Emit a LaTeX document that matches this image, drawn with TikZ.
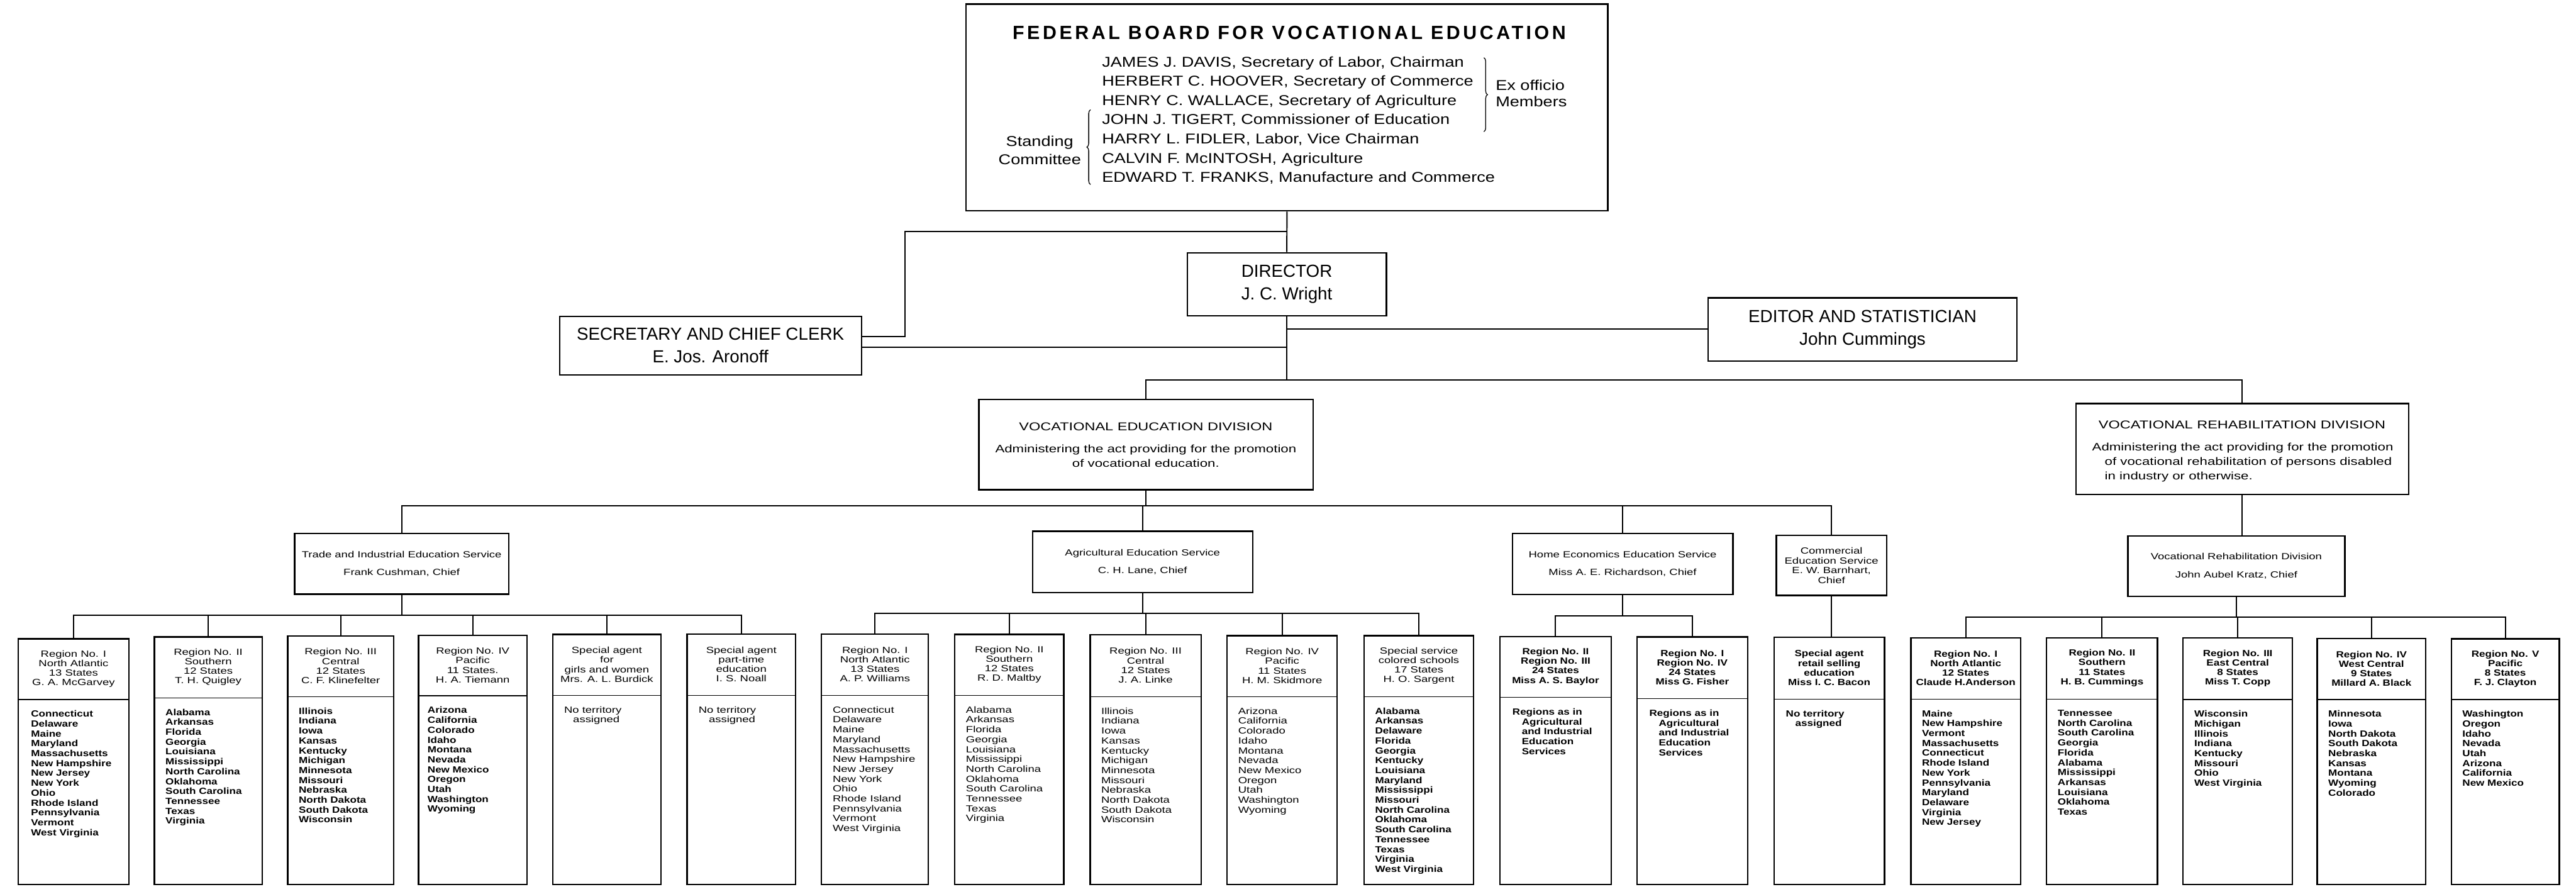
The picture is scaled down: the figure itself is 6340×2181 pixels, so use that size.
\documentclass[tikz,border=0pt]{standalone}
\usepackage{fontspec}
\setmainfont{Liberation Sans}
\newfontfamily\xf[FakeStretch=1.3]{Liberation Sans}
\newfontfamily\wf[FakeStretch=1.2]{Liberation Sans}
\usetikzlibrary{decorations.pathreplacing,calc}
\tikzset{
  box/.style={draw, line width=3.5pt, inner sep=0pt, align=center},
  rbx/.style={draw, line width=3.5pt, inner sep=0pt},
  conn/.style={line width=3pt},
  divl/.style={line width=2.2pt},
  topt/.style={font=\fontsize{43}{55}\selectfont},
  svc/.style={font=\xf\fontsize{22}{44}\selectfont},
  svcc/.style={font=\xf\fontsize{22}{24}\selectfont},
  dtitle/.style={inner sep=0pt, font=\xf\fontsize{28}{34}\selectfont},
  dbody/.style={inner sep=0pt, font=\xf\fontsize{26.5}{36}\selectfont},
  hr/.style={inner sep=0pt, align=center, font=\xf\fontsize{22}{23.5}\selectfont},
  hb/.style={inner sep=0pt, align=center, font=\wf\bfseries\fontsize{22}{23.5}\selectfont},
  lr/.style={inner sep=0pt, align=left, font=\xf\fontsize{22}{24.3}\selectfont},
  lb/.style={inner sep=0pt, align=left, font=\wf\bfseries\fontsize{22}{24.3}\selectfont},
  brc/.style={line width=2pt, decorate, decoration={brace, amplitude=9pt}},
}
\newcommand\bx[7][]{\node[box, minimum width={(#5-#3)*1pt}, minimum height={(#6-#4)*1pt}, #1] (#2) at ({(#3+#5)/2},{(#4+#6)/2}) {#7};}
\newcommand\rbox[5]{%
  \node[rbx, minimum width={(#3-#2)*1pt}, minimum height={(2176-#4)*1pt}] (#1) at ({(#2+#3)/2},{(#4+2176)/2}) {};
  \coordinate (#1d) at ({(#2+#3)/2},#5);
  \draw[divl] (#1.west |- #1d) -- (#1.east |- #1d);}
\newcommand\rhead[3]{\node[#2] (#1h) at ($(#1.north)!0.5!(#1d)$) {#3};}
\newcommand\rlist[4][29]{\node[#3, anchor=north west] (#2l) at ($(#2.west |- #2d)+(#1,27)$) {#4};}
\begin{document}
\begin{tikzpicture}[x=1pt,y=-1pt]
\fill[white] (0,0) rectangle (6340,2181);
\useasboundingbox (0,0) rectangle (6340,2181);

% ---------- Board ----------
\bx{board}{2378}{10}{3957}{519}{}
\node[inner sep=0pt, font=\bfseries\fontsize{47}{50}\selectfont\addfontfeature{LetterSpace=15}] (title) at (3173,81) {FEDERAL BOARD FOR VOCATIONAL EDUCATION};
\node[inner sep=0pt, align=left, anchor=north west, font=\wf\fontsize{35}{47.3}\selectfont] (names) at (2712,139)
 {JAMES J. DAVIS, Secretary of Labor, Chairman\\
  HERBERT C. HOOVER, Secretary of Commerce\\
  HENRY C. WALLACE, Secretary of Agriculture\\
  JOHN J. TIGERT, Commissioner of Education\\
  HARRY L. FIDLER, Labor, Vice Chairman\\
  CALVIN F. McINTOSH, Agriculture\\
  EDWARD T. FRANKS, Manufacture and Commerce};
\node[inner sep=0pt, align=left, anchor=north west, font=\wf\fontsize{35}{41}\selectfont] (exo) at (3681,196) {Ex officio\\Members};
\node[inner sep=0pt, align=center, font=\wf\fontsize{35}{44}\selectfont] (stand) at (2559,370) {Standing\\Committee};
\draw[brc] (3652,142) -- (3652,324);
\draw[brc] (2684,454) -- (2684,270);

% ---------- Second level ----------
\bx[topt]{dir}{2922}{622}{3412}{777}{DIRECTOR\\J. C. Wright}
\bx[topt]{sec}{1377}{778}{2120}{922}{SECRETARY AND CHIEF CLERK\\E. Jos. Aronoff}
\bx[topt]{ed}{4204}{733}{4964}{888}{EDITOR AND STATISTICIAN\\John Cummings}

\coordinate (j1) at (3167,570);
\coordinate (j2) at (2227,828);
\coordinate (j3) at (3167,855);
\coordinate (j4) at (3167,810);
\coordinate (tb) at (3167,935);
\draw[conn] (board.south) -- (dir.north);
\draw[conn] (j1) -| (j2) -- (sec.east |- j2);
\draw[conn] (j3) -- (sec.east |- j3);
\draw[conn] (j4) -- (ed.west |- j4);
\draw[conn] (dir.south) -- (tb);

% ---------- Divisions ----------
\bx{ved}{2409}{983}{3232}{1205}{}
\node[dtitle] (vedt) at (2820,1050) {VOCATIONAL EDUCATION DIVISION};
\node[dbody, align=center, anchor=north] (vedb) at (2820,1094) {Administering the act providing for the promotion\\of vocational education.};
\bx{vrd}{5109}{993}{5928}{1217}{}
\node[dtitle] (vrdt) at (5518,1045) {VOCATIONAL REHABILITATION DIVISION};
\node[dbody, align=left, anchor=north west] (vrdb) at (5180,1089) {\hspace*{-31pt}Administering the act providing for the promotion\\of vocational rehabilitation of persons disabled\\in industry or otherwise.};
\draw[conn] (ved.north) |- (tb) -| (vrd.north);

% ---------- Services ----------
\bx[svc]{trade}{725}{1312}{1252}{1462}{Trade and Industrial Education Service\\Frank Cushman, Chief}
\bx[svc]{agri}{2541}{1307}{3083}{1458}{Agricultural Education Service\\C. H. Lane, Chief}
\bx[svc]{home}{3722}{1312}{4265}{1463}{Home Economics Education Service\\Miss A. E. Richardson, Chief}
\bx[svcc]{comm}{4372}{1317}{4643}{1465}{Commercial\\Education Service\\E. W. Barnhart,\\Chief}
\bx[svc]{vrs}{5237}{1319}{5771}{1467}{Vocational Rehabilitation Division\\John Aubel Kratz, Chief}

\coordinate (sb) at (2820,1245);
\draw[conn] (ved.south) -- (ved.south |- sb);
\draw[conn] (trade.north) |- (comm.north |- sb) -- (comm.north);
\draw[conn] (agri.north) -- (agri.north |- sb);
\draw[conn] (home.north) -- (home.north |- sb);
\draw[conn] (vrd.south) -- (vrd.south |- vrs.north);

% ---------- Region boxes ----------
\rbox{r1}{45}{317}{1572}{1721}
\rbox{r2}{380}{645}{1567}{1717}
\rbox{r3}{708}{969}{1565}{1714}
\rbox{r4}{1030}{1297}{1563}{1712}
\rbox{s1}{1360}{1627}{1561}{1711}
\rbox{s2}{1691}{1958}{1560}{1711}
\rbox{a1}{2022}{2285}{1560}{1711}
\rbox{a2}{2350}{2618}{1561}{1711}
\rbox{a3}{2683}{2956}{1562}{1714}
\rbox{a4}{3020}{3291}{1564}{1714}
\rbox{a5}{3357}{3627}{1564}{1714}
\rbox{h1}{3692}{3965}{1566}{1716}
\rbox{h2}{4029}{4301}{1567}{1719}
\rbox{c1}{4366}{4638}{1568}{1720}
\rbox{v1}{4703}{4973}{1569}{1720}
\rbox{v2}{5037}{5310}{1569}{1720}
\rbox{v3}{5373}{5642}{1569}{1721}
\rbox{v4}{5703}{5970}{1571}{1721}
\rbox{v5}{6033}{6299}{1572}{1721}

% bars
\coordinate (tib) at (989,1514);
\draw[conn] (trade.south) -- (trade.south |- tib);
\draw[conn] (r1.north) |- (s2.north |- tib) -- (s2.north);
\foreach \n in {r2,r3,r4,s1} \draw[conn] (\n.north) -- (\n.north |- tib);
\coordinate (agb) at (2813,1509);
\draw[conn] (agri.south) -- (agri.south |- agb);
\draw[conn] (a1.north) |- (a5.north |- agb) -- (a5.north);
\foreach \n in {a2,a3,a4} \draw[conn] (\n.north) -- (\n.north |- agb);
\coordinate (heb) at (3993,1516);
\draw[conn] (home.south) -- (home.south |- heb);
\draw[conn] (h1.north) |- (h2.north |- heb) -- (h2.north);
\draw[conn] (comm.south) -- (comm.south |- c1.north);
\coordinate (vrb) at (5504,1518);
\draw[conn] (vrs.south) -- (vrs.south |- vrb);
\draw[conn] (v1.north) |- (v5.north |- vrb) -- (v5.north);
\foreach \n in {v2,v3,v4} \draw[conn] (\n.north) -- (\n.north |- vrb);

% headers
\rhead{r1}{hr}{Region No. I\\North Atlantic\\13 States\\G. A. McGarvey}
\rhead{r2}{hr}{Region No. II\\Southern\\12 States\\T. H. Quigley}
\rhead{r3}{hr}{Region No. III\\Central\\12 States\\C. F. Klinefelter}
\rhead{r4}{hr}{Region No. IV\\Pacific\\11 States.\\H. A. Tiemann}
\rhead{s1}{hr}{Special agent\\for\\girls and women\\Mrs. A. L. Burdick}
\rhead{s2}{hr}{Special agent\\part-time\\education\\I. S. Noall}
\rhead{a1}{hr}{Region No. I\\North Atlantic\\13 States\\A. P. Williams}
\rhead{a2}{hr}{Region No. II\\Southern\\12 States\\R. D. Maltby}
\rhead{a3}{hr}{Region No. III\\Central\\12 States\\J. A. Linke}
\rhead{a4}{hr}{Region No. IV\\Pacific\\11 States\\H. M. Skidmore}
\rhead{a5}{hr}{Special service\\colored schools\\17 States\\H. O. Sargent}
\rhead{h1}{hb}{Region No. II\\Region No. III\\24 States\\Miss A. S. Baylor}
\rhead{h2}{hb}{Region No. I\\Region No. IV\\24 States\\Miss G. Fisher}
\rhead{c1}{hb}{Special agent\\retail selling\\education\\Miss I. C. Bacon}
\rhead{v1}{hb}{Region No. I\\North Atlantic\\12 States\\Claude H.Anderson}
\rhead{v2}{hb}{Region No. II\\Southern\\11 States\\H. B. Cummings}
\rhead{v3}{hb}{Region No. III\\East Central\\8 States\\Miss T. Copp}
\rhead{v4}{hb}{Region No. IV\\West Central\\9 States\\Millard A. Black}
\rhead{v5}{hb}{Region No. V\\Pacific\\8 States\\F. J. Clayton}

% lists
\rlist[33]{r1}{lb}{Connecticut\\Delaware\\Maine\\Maryland\\Massachusetts\\New Hampshire\\New Jersey\\New York\\Ohio\\Rhode Island\\Pennsylvania\\Vermont\\West Virginia}
\rlist{r2}{lb}{Alabama\\Arkansas\\Florida\\Georgia\\Louisiana\\Mississippi\\North Carolina\\Oklahoma\\South Carolina\\Tennessee\\Texas\\Virginia}
\rlist{r3}{lb}{Illinois\\Indiana\\Iowa\\Kansas\\Kentucky\\Michigan\\Minnesota\\Missouri\\Nebraska\\North Dakota\\South Dakota\\Wisconsin}
\rlist[24]{r4}{lb}{Arizona\\California\\Colorado\\Idaho\\Montana\\Nevada\\New Mexico\\Oregon\\Utah\\Washington\\Wyoming}
\rlist[30]{s1}{lr}{No territory\\\hspace*{22pt}assigned}
\rlist[30]{s2}{lr}{No territory\\\hspace*{25pt}assigned}
\rlist{a1}{lr}{Connecticut\\Delaware\\Maine\\Maryland\\Massachusetts\\New Hampshire\\New Jersey\\New York\\Ohio\\Rhode Island\\Pennsylvania\\Vermont\\West Virginia}
\rlist{a2}{lr}{Alabama\\Arkansas\\Florida\\Georgia\\Louisiana\\Mississippi\\North Carolina\\Oklahoma\\South Carolina\\Tennessee\\Texas\\Virginia}
\rlist{a3}{lr}{Illinois\\Indiana\\Iowa\\Kansas\\Kentucky\\Michigan\\Minnesota\\Missouri\\Nebraska\\North Dakota\\South Dakota\\Wisconsin}
\rlist{a4}{lr}{Arizona\\California\\Colorado\\Idaho\\Montana\\Nevada\\New Mexico\\Oregon\\Utah\\Washington\\Wyoming}
\rlist{a5}{lb}{Alabama\\Arkansas\\Delaware\\Florida\\Georgia\\Kentucky\\Louisiana\\Maryland\\Mississippi\\Missouri\\North Carolina\\Oklahoma\\South Carolina\\Tennessee\\Texas\\Virginia\\West Virginia}
\rlist[32]{h1}{lb}{Regions as in\\\hspace*{23pt}Agricultural\\\hspace*{23pt}and Industrial\\\hspace*{23pt}Education\\\hspace*{23pt}Services}
\rlist[32]{h2}{lb}{Regions as in\\\hspace*{23pt}Agricultural\\\hspace*{23pt}and Industrial\\\hspace*{23pt}Education\\\hspace*{23pt}Services}
\rlist[31]{c1}{lb}{No territory\\\hspace*{23pt}assigned}
\rlist{v1}{lb}{Maine\\New Hampshire\\Vermont\\Massachusetts\\Connecticut\\Rhode Island\\New York\\Pennsylvania\\Maryland\\Delaware\\Virginia\\New Jersey}
\rlist{v2}{lb}{Tennessee\\North Carolina\\South Carolina\\Georgia\\Florida\\Alabama\\Mississippi\\Arkansas\\Louisiana\\Oklahoma\\Texas}
\rlist{v3}{lb}{Wisconsin\\Michigan\\Illinois\\Indiana\\Kentucky\\Missouri\\Ohio\\West Virginia}
\rlist{v4}{lb}{Minnesota\\Iowa\\North Dakota\\South Dakota\\Nebraska\\Kansas\\Montana\\Wyoming\\Colorado}
\rlist{v5}{lb}{Washington\\Oregon\\Idaho\\Nevada\\Utah\\Arizona\\California\\New Mexico}
\end{tikzpicture}
\end{document}
